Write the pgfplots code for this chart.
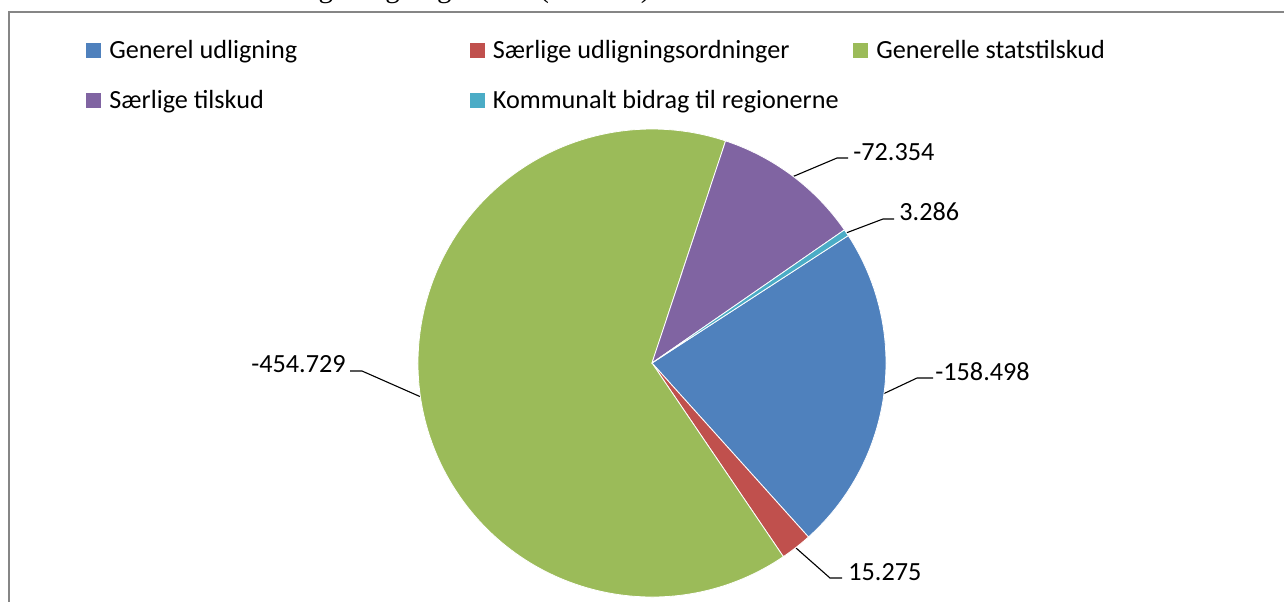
\documentclass[border=0pt]{standalone}
\usepackage{pgfplots}
\pgfplotsset{compat=1.18}
\usepackage{pgfplotstable}
\usepackage{fontspec}
\setmainfont{Carlito}
\newfontfamily\capfont{Liberation Serif}
\newcommand\lfont{\fontsize{13.1}{15.5}\selectfont}

\definecolor{cA}{HTML}{4F81BD}
\definecolor{cB}{HTML}{C0504D}
\definecolor{cC}{HTML}{9BBB59}
\definecolor{cD}{HTML}{8064A2}
\definecolor{cE}{HTML}{4BACC6}
\definecolor{framegray}{HTML}{868686}

% values (mio. kr.)
\pgfplotstableread{
idx value
0 -158.498
1 15.275
2 -454.729
3 -72.354
4 3.286
}\piedata

\pgfplotstablegetelem{0}{value}\of\piedata\let\vA\pgfplotsretval
\pgfplotstablegetelem{1}{value}\of\piedata\let\vB\pgfplotsretval
\pgfplotstablegetelem{2}{value}\of\piedata\let\vC\pgfplotsretval
\pgfplotstablegetelem{3}{value}\of\piedata\let\vD\pgfplotsretval
\pgfplotstablegetelem{4}{value}\of\piedata\let\vE\pgfplotsretval
\pgfmathsetmacro\tot{abs(\vA)+abs(\vB)+abs(\vC)+abs(\vD)+abs(\vE)}
\pgfmathsetmacro\aA{33}
\pgfmathsetmacro\aB{\aA-360*(abs(\vA)/\tot)}
\pgfmathsetmacro\aC{\aB-360*(abs(\vB)/\tot)}
\pgfmathsetmacro\aD{\aC-360*(abs(\vC)/\tot)}
\pgfmathsetmacro\aE{\aD-360*(abs(\vD)/\tot)}
\pgfmathsetmacro\aF{\aE-360*(abs(\vE)/\tot)}
\pgfmathsetmacro\xA{cos(\aA)}\pgfmathsetmacro\yA{sin(\aA)}
\pgfmathsetmacro\xB{cos(\aB)}\pgfmathsetmacro\yB{sin(\aB)}
\pgfmathsetmacro\xC{cos(\aC)}\pgfmathsetmacro\yC{sin(\aC)}
\pgfmathsetmacro\xD{cos(\aD)}\pgfmathsetmacro\yD{sin(\aD)}
\pgfmathsetmacro\xE{cos(\aE)}\pgfmathsetmacro\yE{sin(\aE)}

\begin{document}
\begin{tikzpicture}
\useasboundingbox (0,0) rectangle (642pt,300.5pt);
\clip (0,0) rectangle (642pt,300.5pt);
\begin{scope}[x=0.5pt,y=-0.5pt,shift={(0pt,300.5pt)}]
  \draw[framegray, line width=0.75pt] (9,12) rectangle (1310,640);
  \node[anchor=base west, inner sep=0pt, font=\capfont\fontsize{14.5}{17}\selectfont] at (-62,-2) {Figur 1. Kommunernes tilskud og udligning i 2013 (mio. kr.)};
  % leader lines
  \draw[black, line width=0.55pt] (792,177) -- (837,158) -- (848,158);
  \draw[black, line width=0.55pt] (846,233) -- (883,219) -- (894,219);
  \draw[black, line width=0.55pt] (883,394) -- (917,378) -- (933,378);
  \draw[black, line width=0.55pt] (796,548) -- (830,578) -- (842,578);
  \draw[black, line width=0.55pt] (421,397) -- (362,371) -- (350,371);
  % data labels
  \node[anchor=base west, inner sep=0pt, font=\lfont] at (853,160) {-72.354};
  \node[anchor=base west, inner sep=0pt, font=\lfont] at (899,220) {3.286};
  \node[anchor=base west, inner sep=0pt, font=\lfont] at (935,380) {-158.498};
  \node[anchor=base west, inner sep=0pt, font=\lfont] at (848,580) {15.275};
  \node[anchor=base east, inner sep=0pt, font=\lfont] at (346,372) {-454.729};
\end{scope}
\begin{axis}[
  at={(326pt,119pt)}, anchor=origin,
  scale only axis, width=234pt, height=234pt,
  xmin=-1, xmax=1, ymin=-1, ymax=1,
  hide axis, clip=false,
  legend columns=3, legend cell align=left,
  legend image code/.code={\fill[#1,draw=none] (0pt,-3.75pt) rectangle (7.5pt,3.75pt);},
  legend style={at={(axis description cs:-0.7094,1.1966)}, anchor=north west,
    draw=none, fill=none, inner sep=0pt, row sep=11.5pt, font=\lfont,
    nodes={inner sep=0pt, text height=10.5pt, text depth=3pt},
    /tikz/every odd column/.append style={column sep=4pt},
    /tikz/every even column/.append style={column sep=10.25pt}},
]
\addplot[fill=cA, draw=white, line width=0.4pt] coordinates {(0,0) (\xA,\yA)} arc[start angle=\aA, end angle=\aB, radius=117pt] -- cycle;
\addlegendentry{\makebox[170pt][l]{Generel udligning}}
\addplot[fill=cB, draw=white, line width=0.4pt] coordinates {(0,0) (\xB,\yB)} arc[start angle=\aB, end angle=\aC, radius=117pt] -- cycle;
\addlegendentry{\makebox[170pt][l]{Særlige udligningsordninger}}
\addplot[fill=cC, draw=white, line width=0.4pt] coordinates {(0,0) (\xC,\yC)} arc[start angle=\aC, end angle=\aD, radius=117pt] -- cycle;
\addlegendentry{\makebox[170pt][l]{Generelle statstilskud}}
\addplot[fill=cD, draw=white, line width=0.4pt] coordinates {(0,0) (\xD,\yD)} arc[start angle=\aD, end angle=\aE, radius=117pt] -- cycle;
\addlegendentry{\makebox[170pt][l]{Særlige tilskud}}
\addplot[fill=cE, draw=white, line width=0.4pt] coordinates {(0,0) (\xE,\yE)} arc[start angle=\aE, end angle=\aF, radius=117pt] -- cycle;
\addlegendentry{\makebox[170pt][l]{Kommunalt bidrag til regionerne}}
\end{axis}
\end{tikzpicture}
\end{document}
